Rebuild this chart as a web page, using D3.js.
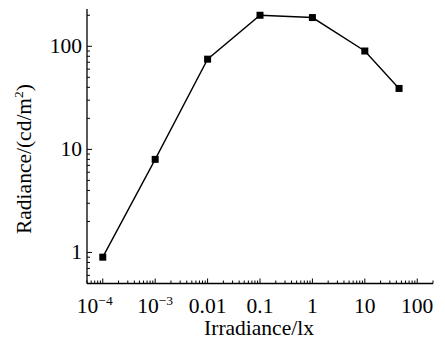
<!DOCTYPE html>
<html>
<head>
<meta charset="utf-8">
<script src="https://cdn.jsdelivr.net/npm/d3@7"></script>
<style>
  body { margin: 0; background: #fff; }
  text { font-family: "Liberation Serif", "Times New Roman", serif; fill: #000; }
</style>
</head>
<body>
<svg width="445" height="340"></svg>
<script>
// data
const irradiance = [1e-4, 1e-3, 0.01, 0.1, 1, 10, 45];
const radiance = [0.9, 8, 75, 200, 190, 90, 39];
const xTicks = [1e-4, 1e-3, 0.01, 0.1, 1, 10, 100];
const xTickLabels = [["10", "−4"], ["10", "−3"], ["0.01"], ["0.1"], ["1"], ["10"], ["100"]];
const yTicks = [1, 10, 100];
const yTickLabels = ["1", "10", "100"];

const svg = d3.select("svg");
const plotLeft = 87, plotRight = 433, plotTop = 9, plotBottom = 283.5;
const fs = 21.5, supFs = 13.5;

const x = d3.scaleLog().domain([5e-5, 200]).range([plotLeft, plotRight]);
const y = d3.scaleLog().domain([0.5, 230]).range([plotBottom, plotTop]);

// minor ticks on each decade
function minors(lo, hi) {
  const out = [];
  for (let e = Math.floor(Math.log10(lo)); e <= Math.ceil(Math.log10(hi)); e++) {
    for (let m = 2; m <= 9; m++) {
      const v = m * Math.pow(10, e);
      if (v >= lo * 0.999 && v <= hi * 1.001) out.push(v);
    }
  }
  return out;
}

const g = svg.append("g").attr("stroke", "#000");

// axes lines
g.append("line").attr("x1", plotLeft).attr("x2", plotRight).attr("y1", plotBottom).attr("y2", plotBottom).attr("stroke-width", 1.3);
g.append("line").attr("x1", plotLeft).attr("x2", plotLeft).attr("y1", plotTop).attr("y2", plotBottom).attr("stroke-width", 1.3);

// x ticks (pointing inward)
g.selectAll(".xmaj").data(xTicks).enter().append("line")
  .attr("x1", d => x(d)).attr("x2", d => x(d))
  .attr("y1", plotBottom).attr("y2", plotBottom - 5);
g.selectAll(".xmin").data(minors(5e-5, 200)).enter().append("line")
  .attr("x1", d => x(d)).attr("x2", d => x(d))
  .attr("y1", plotBottom).attr("y2", plotBottom - 3);

// y ticks
g.selectAll(".ymaj").data(yTicks).enter().append("line")
  .attr("x1", plotLeft).attr("x2", plotLeft + 5)
  .attr("y1", d => y(d)).attr("y2", d => y(d));
g.selectAll(".ymin").data(minors(0.5, 200)).enter().append("line")
  .attr("x1", plotLeft).attr("x2", plotLeft + 3)
  .attr("y1", d => y(d)).attr("y2", d => y(d));

// x tick labels
xTicks.forEach((v, i) => {
  const lab = xTickLabels[i];
  const t = svg.append("text")
    .attr("x", x(v) + (i === 0 ? -8 : 0))
    .attr("y", 312.5)
    .attr("text-anchor", "middle")
    .attr("font-size", fs);
  t.append("tspan").text(lab[0]);
  if (lab[1]) {
    t.append("tspan").attr("font-size", supFs).attr("dy", -8).text(lab[1]);
  }
});

// y tick labels
svg.selectAll(".ylab").data(yTicks).enter().append("text")
  .attr("x", 82)
  .attr("y", d => y(d) + 7)
  .attr("text-anchor", "end")
  .attr("font-size", fs)
  .text((d, i) => yTickLabels[i]);

// axis titles
svg.append("text")
  .attr("x", 259)
  .attr("y", 335)
  .attr("text-anchor", "middle")
  .attr("font-size", fs)
  .text("Irradiance/lx");

const yt = svg.append("text")
  .attr("transform", "translate(31,159) rotate(-90)")
  .attr("text-anchor", "middle")
  .attr("font-size", fs);
yt.append("tspan").text("Radiance/(cd/m");
yt.append("tspan").attr("font-size", supFs).attr("dy", -8).text("2");
yt.append("tspan").attr("dy", 8).text(")");

// data line and markers
const pts = irradiance.map((v, i) => [v, radiance[i]]);
svg.append("path")
  .datum(pts)
  .attr("fill", "none")
  .attr("stroke", "#000")
  .attr("stroke-width", 1.4)
  .attr("d", d3.line().x(d => x(d[0])).y(d => y(d[1])));

svg.selectAll(".pt").data(pts).enter().append("rect")
  .attr("x", d => x(d[0]) - 3.5)
  .attr("y", d => y(d[1]) - 3.5)
  .attr("width", 7)
  .attr("height", 7)
  .attr("fill", "#000");
</script>
</body>
</html>
